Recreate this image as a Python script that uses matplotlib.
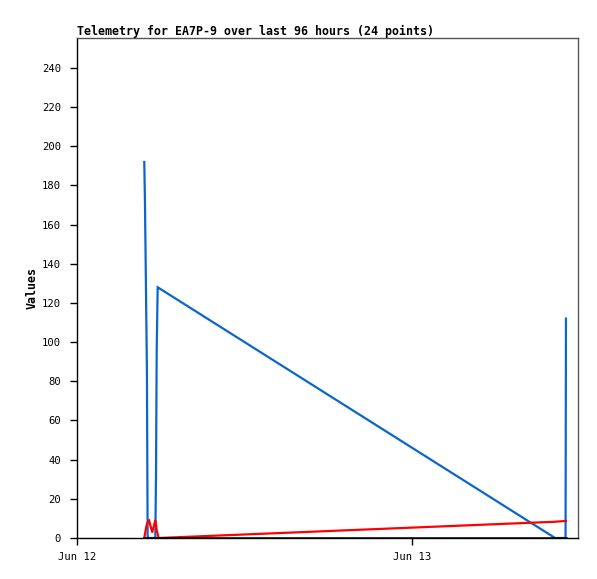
import matplotlib
matplotlib.use("Agg")
import matplotlib.pyplot as plt
import matplotlib.dates as mdates
from datetime import datetime, timedelta

# ---- data ----
start = datetime(2024, 6, 12)
hours = [4.82, 4.87, 4.94, 5.01, 5.06, 5.16, 5.27, 5.39, 5.50, 5.61, 5.66,
         5.71, 5.78, 5.85, 34.25, 35.00, 35.03]
blue_vals = [192, 171, 128, 85, 0, 0, 0, 0, 0, 0, 32,
             96, 128, 127.7, 0, 0, 112]
red_vals = [0, 2, 5, 7, 8, 9.2, 6, 3, 6, 9, 7,
            4, 2, 0, 8.3, 8.7, 8.7]
black_vals = [0] * len(hours)
yticks = list(range(0, 241, 20))
xtick_labels = ["Jun 12", "Jun 13"]
xtick_days = [0, 1]
title = "Telemetry for EA7P-9 over last 96 hours (24 points)"
ylabel = "Values"

times = [start + timedelta(hours=h) for h in hours]

fig = plt.figure(figsize=(5.97, 5.79), dpi=100)
ax = fig.add_axes([77 / 597, 1 - 538 / 579, (578 - 77) / 597, (538 - 38) / 579])

mono = "DejaVu Sans Mono"
ax.plot(times, blue_vals, color="#0a66cc", lw=1.6, solid_joinstyle="miter")
ax.plot(times, red_vals, color="#ff0000", lw=1.6)
ax.plot(times, black_vals, color="#000000", lw=1.8)

ax.set_xlim(start, start + timedelta(days=1.4955))
ax.set_ylim(0, 255.3)

ax.set_yticks(yticks)
ax.set_yticklabels([str(v) for v in yticks], family=mono, fontsize=7.6)
ax.set_xticks([start + timedelta(days=d) for d in xtick_days])
ax.set_xticklabels(xtick_labels, family=mono, fontsize=7.6)
ax.tick_params(direction="out", length=5, width=1, colors="black")
ax.tick_params(axis="y", pad=6.5)
ax.tick_params(axis="x", pad=5)

for s in ["left", "bottom"]:
    ax.spines[s].set_color("black")
    ax.spines[s].set_linewidth(1)
for s in ["top", "right"]:
    ax.spines[s].set_color("#555555")
    ax.spines[s].set_linewidth(1)

fig.text(77 / 597, 1 - 31 / 579, title, family=mono, fontweight="bold",
         fontsize=8.35, ha="left", va="center")
fig.text(32 / 597, 1 - 288 / 579, ylabel, family=mono, fontweight="bold",
         fontsize=8.35, rotation=90, ha="center", va="center")

fig.savefig("out.png", dpi=100)
